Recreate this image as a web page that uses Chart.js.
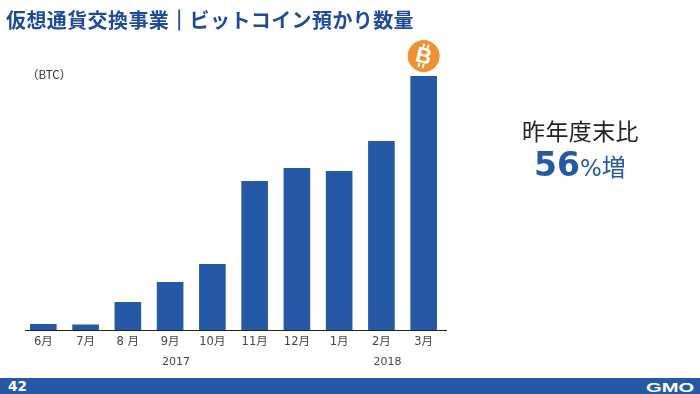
<!DOCTYPE html>
<html lang="ja">
<head>
<meta charset="utf-8">
<script src="https://cdn.jsdelivr.net/npm/chart.js@4"></script>
<style>
  html, body { margin: 0; padding: 0; background: #fff; }
  #wrap { position: relative; width: 700px; height: 394px; overflow: hidden; font-family: "Noto Sans CJK JP", sans-serif; }
  #wrap div { position: absolute; white-space: nowrap; }
  canvas { position: absolute; left: 0; top: 0; }
  #title { left: 6px; top: 5px; font-size: 20px; line-height: 30px; font-weight: 700; color: #1f4a9c; letter-spacing: .4px; }
  #title span { -webkit-text-stroke: .8px #1f4a9c; }
  #unit { left: 27px; top: 66px; font-size: 11.5px; line-height: 16px; color: #333; }
  #note { left: 522px; top: 114px; font-size: 23px; line-height: 32px; color: #222; letter-spacing: .4px; }
  #rate { left: 534px; top: 142px; line-height: 46px; color: #2559a6; font-size: 24px; }
  #rate b { font-family: "DejaVu Sans", sans-serif; font-size: 33px; font-weight: 700; }
  #rate i { font-family: "DejaVu Sans", sans-serif; font-style: normal; font-size: 23px; }
  #footer { left: 0; top: 378px; width: 700px; height: 16px; background: #2559a6; }
  #page { left: 8px; top: 378px; font: 700 13.5px/17px "DejaVu Sans", sans-serif; color: #fff; }
  #logo { left: 646px; top: 380px; font: 700 13px/15px "Liberation Sans", sans-serif; color: #fff; transform: scaleX(1.55); transform-origin: left; }
</style>
</head>
<body>
<div id="wrap">
  <canvas id="myChart" width="700" height="394"></canvas>
  <div id="title">仮想通貨交換事業<span>｜</span>ビットコイン預かり数量</div>
  <div id="unit">（BTC）</div>
  <div id="note">昨年度末比</div>
  <div id="rate"><b>56</b><i>%</i>増</div>
  <div id="footer"></div>
  <div id="page">42</div>
  <div id="logo">GMO</div>
</div>
<script>
const months = ['6月', '7月', '8 月', '9月', '10月', '11月', '12月', '1月', '2月', '3月'];
const btcHeld = [6, 5.5, 28, 48, 66, 149, 162, 159, 189, 254];
const years = ['2017', '2018'];
const yearAtMonth = [3, 8];

const barBlue = '#2559a6';
const labelFont = '11px "DejaVu Sans", "Noto Sans CJK JP", sans-serif';

// axis line, year row and the coin on top of the last bar
const extras = {
  id: 'extras',
  afterDatasetsDraw(chart) {
    const ctx = chart.ctx;
    const x = chart.scales.x;
    const y = chart.scales.y;
    ctx.save();

    ctx.strokeStyle = '#222';
    ctx.lineWidth = 1;
    ctx.beginPath();
    ctx.moveTo(25, y.bottom + 0.5);
    ctx.lineTo(447, y.bottom + 0.5);
    ctx.stroke();

    ctx.fillStyle = '#444';
    ctx.font = labelFont;
    ctx.textAlign = 'center';
    ctx.textBaseline = 'middle';
    years.forEach(function (yr, i) {
      ctx.fillText(yr, x.getPixelForValue(yearAtMonth[i]) + 6, y.bottom + 32);
    });

    const cx = x.getPixelForValue(months.length - 1);
    const cy = y.getPixelForValue(btcHeld[btcHeld.length - 1]) - 20;
    ctx.fillStyle = '#ec9233';
    ctx.beginPath();
    ctx.arc(cx, cy, 16, 0, Math.PI * 2);
    ctx.fill();

    ctx.translate(cx, cy);
    ctx.rotate(14 * Math.PI / 180);
    ctx.fillStyle = '#fff';
    ctx.font = '700 22px "Liberation Sans", sans-serif';
    ctx.fillText('B', 0, 1);
    ctx.fillRect(-3.5, -12, 2, 4);
    ctx.fillRect(1, -12, 2, 4);
    ctx.fillRect(-3.5, 8, 2, 4);
    ctx.fillRect(1, 8, 2, 4);
    ctx.restore();
  }
};

new Chart(document.getElementById('myChart').getContext('2d'), {
  type: 'bar',
  data: {
    labels: months,
    datasets: [{
      data: btcHeld,
      backgroundColor: barBlue,
      categoryPercentage: 1,
      barPercentage: 0.63
    }]
  },
  options: {
    responsive: false,
    animation: false,
    layout: { padding: { left: 22.2, right: 255.2, top: 70, bottom: 0 } },
    plugins: { legend: { display: false }, tooltip: { enabled: false } },
    scales: {
      x: {
        grid: { display: false, drawTicks: false },
        border: { display: false },
        ticks: { color: '#444', font: { family: '"DejaVu Sans", "Noto Sans CJK JP", sans-serif', size: 11.5 }, padding: 5, maxRotation: 0, autoSkip: false },
        afterFit: function (scale) { scale.height = 64; }
      },
      y: { display: false, min: 0, max: 260 }
    }
  },
  plugins: [extras]
});
</script>
</body>
</html>
